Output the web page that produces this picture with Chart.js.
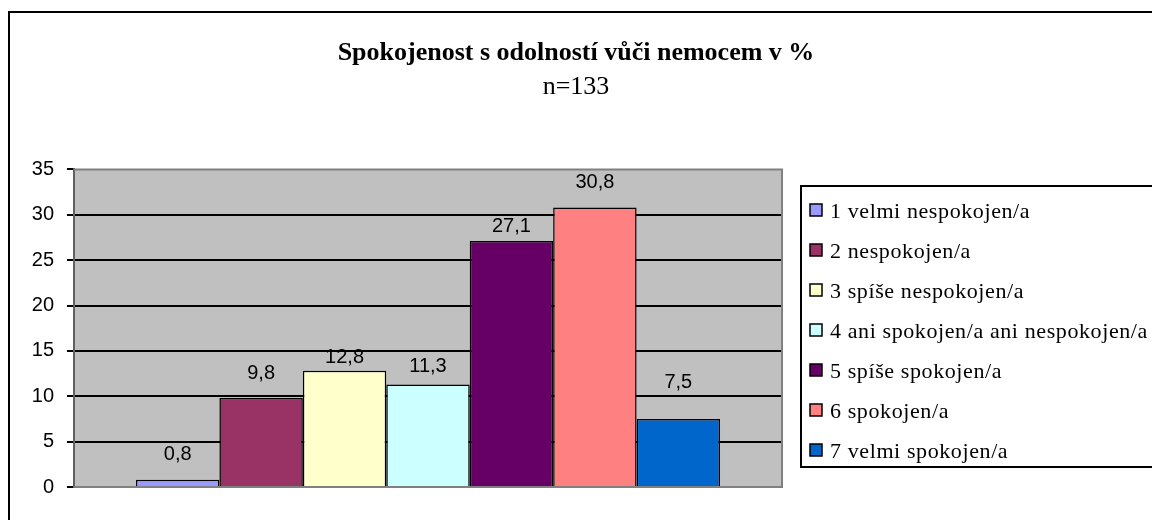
<!DOCTYPE html>
<html>
<head>
<meta charset="utf-8">
<script src="https://cdn.jsdelivr.net/npm/chart.js@4/dist/chart.umd.min.js"></script>
<style>
  html, body { margin: 0; padding: 0; background: #fff; }
  #wrap { width: 1152px; height: 520px; position: relative; }
</style>
</head>
<body>
<div id="wrap"><canvas id="c" width="1152" height="520"></canvas></div>
<script>
// ---- data ----
const titleText = 'Spokojenost s odolností vůči nemocem v %';
const subtitleText = 'n=133';
const seriesLabels = [
  '1 velmi nespokojen/a',
  '2 nespokojen/a',
  '3 spíše nespokojen/a',
  '4 ani spokojen/a ani nespokojen/a',
  '5 spíše spokojen/a',
  '6 spokojen/a',
  '7 velmi spokojen/a'
];
const seriesValues = [0.8, 9.8, 12.8, 11.3, 27.1, 30.8, 7.5];
const yTicks = [0, 5, 10, 15, 20, 25, 30, 35];

// ---- styles ----
const seriesColors = ['#9999FF', '#993366', '#FFFFCC', '#CCFFFF', '#660066', '#FF8080', '#0066CC'];
const labelLift = [25, 25, 13, 18, 15, 25, 36];

const datasets = seriesLabels.map((lab, i) => ({
  label: lab,
  data: [seriesValues[i]],
  backgroundColor: seriesColors[i],
  borderColor: '#000',
  borderWidth: 1.5,
  categoryPercentage: 0.825,
  barPercentage: 1.0
}));

const frame = {
  id: 'frame',
  beforeDraw(chart) {
    const ctx = chart.ctx, a = chart.chartArea;
    ctx.save();
    ctx.fillStyle = '#fff';
    ctx.fillRect(0, 0, chart.width, chart.height);
    ctx.fillStyle = '#C0C0C0';
    ctx.fillRect(a.left, a.top, a.right - a.left, a.bottom - a.top);
    ctx.restore();
  },
  afterDatasetsDraw(chart) {
    const ctx = chart.ctx, a = chart.chartArea;
    ctx.save();
    ctx.strokeStyle = '#808080';
    ctx.lineWidth = 2;
    ctx.beginPath();
    ctx.moveTo(a.left, a.top); ctx.lineTo(a.right, a.top);
    ctx.lineTo(a.right, a.bottom); ctx.lineTo(a.left, a.bottom);
    ctx.stroke();
    ctx.fillStyle = '#000';
    ctx.font = '20px "Liberation Sans", Arial, sans-serif';
    ctx.textAlign = 'center';
    ctx.textBaseline = 'middle';
    chart.data.datasets.forEach((ds, i) => {
      const el = chart.getDatasetMeta(i).data[0];
      const txt = String(ds.data[0]).replace('.', ',');
      ctx.fillText(txt, el.x, el.y - labelLift[i]);
    });
    ctx.restore();
  },
  afterDraw(chart) {
    const ctx = chart.ctx;
    ctx.save();
    ctx.strokeStyle = '#000';
    ctx.lineWidth = 2;
    ctx.strokeRect(9, 12, 1300, 700);
    ctx.strokeRect(801, 186, 400, 281);
    ctx.font = '22px "Liberation Serif", "Times New Roman", serif';
    ctx.textBaseline = 'alphabetic';
    ctx.textAlign = 'left';
    try { ctx.letterSpacing = '0.6px'; } catch (e) {}
    chart.data.datasets.forEach((ds, i) => {
      const cy = 210 + i * 40;
      ctx.fillStyle = ds.backgroundColor;
      ctx.fillRect(810, cy - 6, 12, 12);
      ctx.strokeStyle = '#000';
      ctx.lineWidth = 1.5;
      ctx.strokeRect(810, cy - 6, 12, 12);
      ctx.fillStyle = '#000';
      ctx.fillText(ds.label, 830, cy + 8);
    });
    ctx.restore();
  }
};

new Chart(document.getElementById('c'), {
  type: 'bar',
  data: { labels: [''], datasets },
  plugins: [frame],
  options: {
    responsive: false,
    animation: false,
    layout: { padding: { left: 0, right: 0, top: 0, bottom: 33 } },
    plugins: {
      legend: { display: false },
      tooltip: { enabled: false },
      title: {
        display: true,
        text: titleText,
        color: '#000',
        font: { family: '"Liberation Serif", "Times New Roman", serif', size: 26, weight: 'bold' },
        padding: { top: 38, bottom: 2 }
      },
      subtitle: {
        display: true,
        text: subtitleText,
        color: '#000',
        font: { family: '"Liberation Serif", "Times New Roman", serif', size: 26, weight: 'normal' },
        padding: { top: 0, bottom: 67 }
      }
    },
    scales: {
      x: {
        display: true,
        ticks: { display: false },
        grid: { display: false, drawTicks: false },
        border: { display: false },
        afterFit(s) { s.height = 0; }
      },
      y: {
        min: 0,
        max: 35,
        afterBuildTicks(s) { s.ticks = yTicks.map(v => ({ value: v })); },
        ticks: {
          color: '#000',
          padding: 13,
          font: { family: '"Liberation Sans", Arial, sans-serif', size: 20 }
        },
        grid: {
          color: ctx => (ctx.tick && (ctx.tick.value === 0 || ctx.tick.value === 35)) ? 'rgba(0,0,0,0)' : '#000',
          lineWidth: 2,
          tickColor: '#000',
          tickLength: 7,
          drawTicks: true
        },
        border: { display: true, color: '#606060', width: 2 },
        afterFit(s) { s.width = 74; }
      },
      yRight: {
        position: 'right',
        min: 0,
        max: 35,
        display: true,
        ticks: { display: false },
        grid: { display: false, drawTicks: false },
        border: { display: false },
        afterFit(s) { s.width = 370; }
      }
    }
  }
});
</script>
</body>
</html>
